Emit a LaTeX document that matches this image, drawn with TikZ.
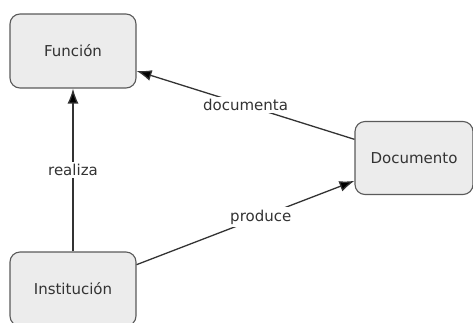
\documentclass[tikz,border=0pt]{standalone}
\usepackage{fontspec}
\setmainfont{DejaVu Sans}
\usepackage{tikz}
\usetikzlibrary{positioning,arrows.meta}

\definecolor{boxfill}{HTML}{ECECEC}
\definecolor{boxline}{HTML}{5A5A5A}
\definecolor{linkline}{HTML}{333333}

\begin{document}
\begin{tikzpicture}[x=1pt,y=-1pt,
    concept/.style={draw=boxline, fill=boxfill, line width=1.1pt,
      rounded corners=10pt, minimum width=126pt, minimum height=74pt,
      font=\fontsize{15}{18}\selectfont, text=black!80},
    link/.style={fill=white, inner sep=2.5pt, text=black!80,
      font=\fontsize{15}{18}\selectfont}]
  \useasboundingbox (0,0) rectangle (473,322);
  \node (func) [concept] at (73,51) {Función};
  \node (inst) [concept] at (73,289) {Institución};
  \node (doc) [concept, minimum width=118pt, minimum height=73pt] at (414,158) {Documento};

  \path[-{Latex[length=15pt,width=11pt]}, draw=linkline, line width=1.3pt]
    (doc) edge node [link] {documenta} (func)
    (inst)
      edge node [link] {realiza} (func)
      edge node [link, pos=0.57] {produce} (doc);

\end{tikzpicture}
\end{document}
